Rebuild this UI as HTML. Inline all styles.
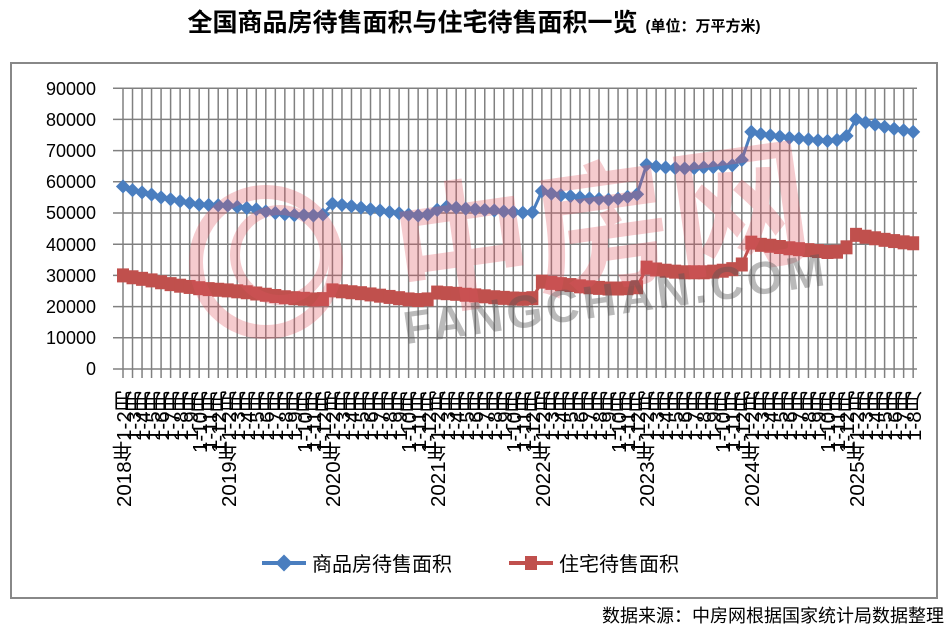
<!DOCTYPE html>
<html><head><meta charset="utf-8">
<style>
html,body{margin:0;padding:0;background:#fff;}
body{width:949px;height:633px;position:relative;overflow:hidden;font-family:"Liberation Sans","Noto Sans CJK SC",sans-serif;}
#xl{position:absolute;left:120px;top:391px;height:128px;display:flex;}
#xl div{width:9.52px;height:126px;writing-mode:vertical-rl;transform:rotate(180deg);text-align:end;font-size:20.5px;line-height:9.52px;color:#000;white-space:nowrap;overflow:visible;}
</style></head><body>
<svg id="s" width="949" height="633" style="position:absolute;left:0;top:0">
<text x="474" y="31" text-anchor="middle" font-size="25" font-weight="bold" font-family="Liberation Sans,Noto Sans CJK SC,sans-serif">全国商品房待售面积与住宅待售面积一览<tspan font-size="15" dx="8">(单位：万平方米)</tspan></text>
<rect x="11" y="63" width="926" height="535" fill="none" stroke="#888" stroke-width="2"/>
<g id="grid" stroke="#808080" stroke-width="1.5"></g>
<g font-size="18" text-anchor="end" font-family="Liberation Sans,sans-serif">
<text x="96" y="95">90000</text><text x="96" y="126">80000</text><text x="96" y="157">70000</text><text x="96" y="188">60000</text><text x="96" y="219">50000</text><text x="96" y="251">40000</text><text x="96" y="282">30000</text><text x="96" y="313">20000</text><text x="96" y="344">10000</text><text x="96" y="375">0</text>
</g>
<g id="ser"></g>
<g opacity="0.3">
<circle cx="266" cy="262" r="70" fill="none" stroke="#e05560" stroke-width="14"/>
<circle cx="280" cy="255" r="45" fill="none" stroke="#e05560" stroke-width="10"/>
<text x="390" y="280" font-size="140" fill="#e05560" font-weight="bold" transform="rotate(-8 590 220)" font-family="Noto Sans CJK SC,sans-serif">中房网</text>
</g>
<text x="400" y="318" font-size="46" font-weight="bold" fill="#555" opacity="0.4" transform="rotate(-8 590 290)" letter-spacing="4">FANGCHAN.COM</text>
<line x1="262" y1="563" x2="306" y2="563" stroke="#4a7ebf" stroke-width="4"/>
<rect x="278" y="557" width="12" height="12" fill="#4a7ebf" transform="rotate(45 284 563)"/>
<text x="312" y="571" font-size="20">商品房待售面积</text>
<line x1="509" y1="563" x2="553" y2="563" stroke="#c0504d" stroke-width="4"/>
<rect x="525" y="556" width="12" height="14" fill="#c0504d"/>
<text x="559" y="571" font-size="20">住宅待售面积</text>
<text x="944" y="622" font-size="18" text-anchor="end">数据来源：中房网根据国家统计局数据整理</text>
</svg>
<div id="xl">
<div>2018年1-2月</div><div>1-3月</div><div>1-4月</div><div>1-5月</div><div>1-6月</div><div>1-7月</div><div>1-8月</div><div>1-9月</div><div>1-10月</div><div>1-11月</div><div>1-12月</div>
<div>2019年1-2月</div><div>1-3月</div><div>1-4月</div><div>1-5月</div><div>1-6月</div><div>1-7月</div><div>1-8月</div><div>1-9月</div><div>1-10月</div><div>1-11月</div><div>1-12月</div>
<div>2020年1-2月</div><div>1-3月</div><div>1-4月</div><div>1-5月</div><div>1-6月</div><div>1-7月</div><div>1-8月</div><div>1-9月</div><div>1-10月</div><div>1-11月</div><div>1-12月</div>
<div>2021年1-2月</div><div>1-3月</div><div>1-4月</div><div>1-5月</div><div>1-6月</div><div>1-7月</div><div>1-8月</div><div>1-9月</div><div>1-10月</div><div>1-11月</div><div>1-12月</div>
<div>2022年1-2月</div><div>1-3月</div><div>1-4月</div><div>1-5月</div><div>1-6月</div><div>1-7月</div><div>1-8月</div><div>1-9月</div><div>1-10月</div><div>1-11月</div><div>1-12月</div>
<div>2023年1-2月</div><div>1-3月</div><div>1-4月</div><div>1-5月</div><div>1-6月</div><div>1-7月</div><div>1-8月</div><div>1-9月</div><div>1-10月</div><div>1-11月</div><div>1-12月</div>
<div>2024年1-2月</div><div>1-3月</div><div>1-4月</div><div>1-5月</div><div>1-6月</div><div>1-7月</div><div>1-8月</div><div>1-9月</div><div>1-10月</div><div>1-11月</div><div>1-12月</div>
<div>2025年1-2月</div><div>1-3月</div><div>1-4月</div><div>1-5月</div><div>1-6月</div><div>1-7月</div><div>1-8月</div>
</div>
<script>
var NS="http://www.w3.org/2000/svg";
function el(p,t,a){var e=document.createElementNS(NS,t);for(var k in a)e.setAttribute(k,a[k]);p.appendChild(e);return e;}
var g=document.getElementById('grid'),s=document.getElementById('ser');
var X=function(i){return 123+9.52*i;},Y=function(v){return 369-v*3.12;};
for(var k=0;k<=9;k++){var y=369-k*31.2;el(g,'line',{x1:113,y1:y,x2:917,y2:y});}
for(var i=0;i<84;i++){el(g,'line',{x1:X(i),y1:89,x2:X(i),y2:378});}
var b=[58.5,57.3,56.6,55.9,55.0,54.4,53.8,53.2,52.7,52.6,52.5,
52.4,52.0,51.6,51.2,50.5,50.0,49.6,49.3,49.3,49.2,49.5,
53.0,52.6,52.2,51.7,51.2,50.8,50.3,49.9,49.5,49.2,49.5,
51.0,52.0,51.7,51.4,51.2,51.0,50.8,50.5,50.3,50.1,50.2,
57.0,56.2,55.7,55.4,55.0,54.7,54.5,54.3,54.6,55.2,56.0,
65.5,64.9,64.6,64.4,64.3,64.4,64.6,64.7,64.9,65.3,67.0,
76.0,75.3,74.9,74.5,74.1,73.9,73.6,73.3,73.1,73.4,74.7,
80.0,79.0,78.3,77.6,77.0,76.5,76.0];
var r=[30.0,29.4,28.9,28.4,27.8,27.2,26.7,26.3,25.9,25.6,25.4,
25.2,24.9,24.6,24.2,23.8,23.4,23.0,22.7,22.5,22.3,22.4,
25.2,24.9,24.6,24.3,23.9,23.5,23.1,22.7,22.3,22.1,22.3,
24.5,24.3,24.1,23.8,23.6,23.3,23.0,22.8,22.6,22.5,22.7,
28.0,27.6,27.2,26.9,26.5,26.2,26.0,25.8,25.8,25.9,26.2,
32.5,31.9,31.5,31.2,31.0,31.0,31.0,31.2,31.5,32.0,33.5,
40.5,39.8,39.5,39.1,38.7,38.4,38.1,37.8,37.5,37.6,39.0,
43.0,42.4,41.9,41.4,41.0,40.6,40.3];
function line(d,c){var p=d.map(function(v,i){return X(i).toFixed(1)+','+Y(v).toFixed(1);}).join(' ');el(s,'polyline',{points:p,fill:'none',stroke:c,'stroke-width':3});}
line(b,'#4a7ebf');line(r,'#c0504d');
b.forEach(function(v,i){var x=X(i),y=Y(v);el(s,'rect',{x:x-5,y:y-5,width:10,height:10,fill:'#4a7ebf',transform:'rotate(45 '+x+' '+y+')'});});
r.forEach(function(v,i){var x=X(i),y=Y(v);el(s,'rect',{x:x-6,y:y-7,width:12,height:14,fill:'#c0504d'});});
</script>
</body></html>
